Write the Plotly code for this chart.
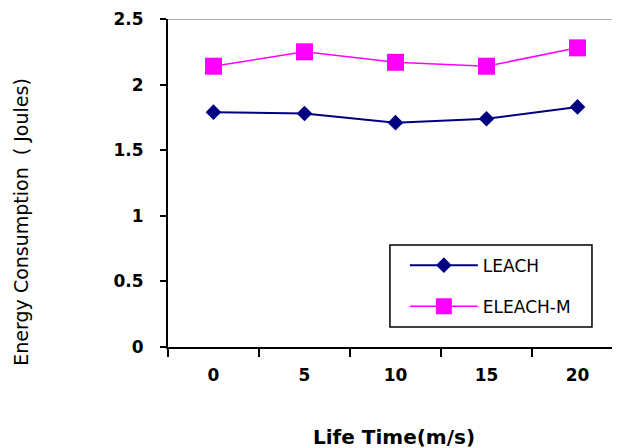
import plotly.graph_objects as go

categories = ["0", "5", "10", "15", "20"]
leach = [1.79, 1.78, 1.71, 1.74, 1.83]
eleach_m = [2.14, 2.25, 2.17, 2.14, 2.28]
y_ticks = [0, 0.5, 1, 1.5, 2, 2.5]
y_tick_labels = ["0", "0.5", "1", "1.5", "2", "2.5"]

FONT = "DejaVu Sans"

fig = go.Figure()
fig.add_trace(go.Scatter(
    x=categories, y=leach, name="LEACH", mode="lines+markers",
    line=dict(color="#000080", width=2),
    marker=dict(symbol="diamond", size=12, color="#000080"),
    legendgroup="a",
))
fig.add_trace(go.Scatter(
    x=categories, y=eleach_m, name="ELEACH-M", mode="lines+markers",
    line=dict(color="#FF00FF", width=1.5),
    marker=dict(symbol="square", size=17, color="#FF00FF"),
    legendgroup="b",
))

fig.update_layout(
    width=612, height=440,
    margin=dict(l=160, r=0, t=11, b=101),
    paper_bgcolor="white", plot_bgcolor="white",
    font=dict(family=FONT, color="black"),
    showlegend=True,
    legend=dict(
        x=0.524, y=0.303, xanchor="left", yanchor="top",
        bgcolor="rgba(0,0,0,0)", borderwidth=0,
        font=dict(family=FONT, size=17, color="black"),
        itemwidth=68, tracegroupgap=16, traceorder="grouped",
    ),
    xaxis=dict(
        type="category", range=[-0.5, 4.467],
        showgrid=False, zeroline=False,
        showline=True, linecolor="black", linewidth=2,
        ticks="outside", ticklen=8, tickwidth=1.5, tickcolor="black",
        tickson="boundaries",
        tickfont=dict(family=FONT, size=17, color="black", weight="bold"),
        ticklabelstandoff=12,
    ),
    yaxis=dict(
        range=[0, 2.5], tickvals=y_ticks, ticktext=y_tick_labels,
        showgrid=False, zeroline=False,
        showline=True, linecolor="black", linewidth=2,
        ticks="outside", ticklen=6, tickwidth=1.5, tickcolor="black",
        tickfont=dict(family=FONT, size=17, color="black", weight="bold"),
        ticklabelstandoff=13,
    ),
    shapes=[
        dict(type="line", xref="paper", x0=0, x1=1, yref="y", y0=2.5, y1=2.5,
             line=dict(color="#999999", width=1.5)),
        dict(type="rect", xref="paper", yref="paper",
             x0=0.491, x1=0.938, y0=0.061, y1=0.311,
             line=dict(color="black", width=1.5), fillcolor="white", layer="below"),
    ],
    annotations=[
        dict(text="Energy Consumption\u00a0\u00a0( Joules)", textangle=-90,
             xref="paper", yref="paper", x=-0.326, y=0.381,
             xanchor="center", yanchor="middle", showarrow=False,
             font=dict(family=FONT, size=19, color="black")),
        dict(text="<b>Life Time(m/s)</b>",
             xref="paper", yref="paper", x=0.5, y=-0.274,
             xanchor="center", yanchor="middle", showarrow=False,
             font=dict(family=FONT, size=20, color="black")),
    ],
)

fig.write_html("out.html")
